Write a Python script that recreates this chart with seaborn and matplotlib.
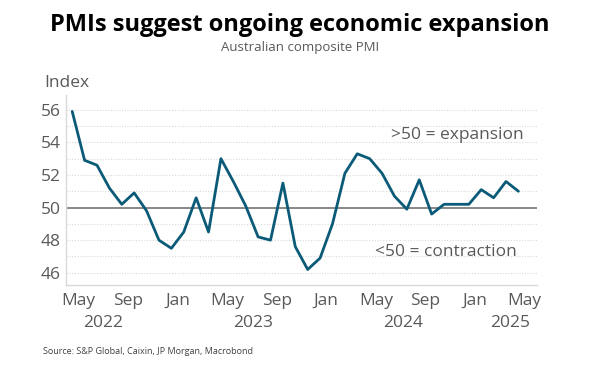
import numpy as np
import pandas as pd
import matplotlib
matplotlib.use("Agg")
import matplotlib.pyplot as plt
import seaborn as sns

# Australian composite PMI, monthly May 2022 - May 2025
months = pd.date_range("2022-05-01", "2025-05-01", freq="MS")
pmi = [55.9, 52.9, 52.6, 51.2, 50.2, 50.9, 49.8, 48.0, 47.5, 48.5, 50.6, 48.5,
       53.0, 51.6, 50.1, 48.2, 48.0, 51.5, 47.6, 46.2, 46.9, 49.0, 52.1, 53.3,
       53.0, 52.1, 50.7, 49.9, 51.7, 49.6, 50.2, 50.2, 50.2, 51.1, 50.6, 51.6,
       51.0]
month_labels = ["May", "Sep", "Jan", "May", "Sep", "Jan", "May", "Sep", "Jan", "May"]
year_labels = ["2022", "2023", "2024", "2025"]
yticks = [46, 48, 50, 52, 54, 56]

df = pd.DataFrame({"i": np.arange(len(pmi)), "date": months, "pmi": pmi})

sns.set_style("white")
plt.rcParams["font.family"] = ["Open Sans", "DejaVu Sans"]

grey = "#595959"
line_col = "#0a5a78"

fig = plt.figure(figsize=(6, 3.73), dpi=100)
ax = fig.add_axes([0.11, 0.236, 0.785, 0.509])

# dotted grid at every integer, solid line at 50
for v in range(46, 57):
    ax.axhline(v, color="#d9d9d9", lw=0.8, ls=(0, (1, 1.5)), zorder=0)
ax.axhline(50, color="#7f7f7f", lw=1.3, zorder=1)

sns.lineplot(data=df, x="i", y="pmi", color=line_col, lw=2.0, ax=ax, zorder=3)

ax.set_xlim(-0.5, 37.5)
ax.set_ylim(45.25, 56.9)
ax.set_yticks(yticks)
ax.set_yticklabels([str(t) for t in yticks], fontsize=12.5, color=grey)
ax.set_xticks(np.arange(0, 37, 4) + 0.5)
ax.set_xticklabels(month_labels, fontsize=12.5, color=grey)
ax.tick_params(axis="both", length=0, pad=4)
ax.tick_params(axis="x", pad=6)
ax.set_xlabel("")
ax.set_ylabel("")

for s in ["top", "right"]:
    ax.spines[s].set_visible(False)
for s in ["left", "bottom"]:
    ax.spines[s].set_color("#d9d9d9")
    ax.spines[s].set_linewidth(1.0)

# year labels below month labels
for pos, yr in zip([2.5, 14.6, 26.7, 35.3], year_labels):
    ax.text(pos, -0.2, yr, transform=ax.get_xaxis_transform(), ha="center",
            va="center", fontsize=12.5, color=grey)

ax.text(36.4, 54.45, ">50 = expansion", ha="right", va="center",
        fontsize=12.5, color=grey)
ax.text(35.9, 47.3, "<50 = contraction", ha="right", va="center",
        fontsize=12.5, color=grey)

fig.text(44 / 600, 1 - 83 / 373, "Index", ha="left", va="center",
         fontsize=12.5, color=grey)
fig.text(0.5, 1 - 25 / 373, "PMIs suggest ongoing economic expansion",
         ha="center", va="center", fontsize=17, fontweight="bold", color="black")
fig.text(0.5, 1 - 47 / 373, "Australian composite PMI", ha="center",
         va="center", fontsize=9.5, color=grey)
fig.text(43 / 600, 1 - 352 / 373, "Source: S&P Global, Caixin, JP Morgan, Macrobond",
         ha="left", va="center", fontsize=6.5, color="#404040")

fig.savefig("out.png", dpi=100)
